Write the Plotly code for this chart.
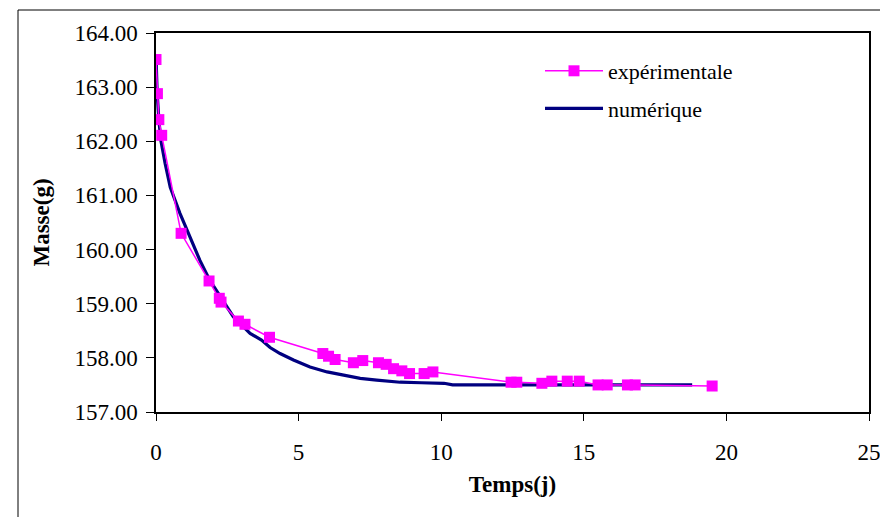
import plotly.graph_objects as go

# Experimental data (Temps in days, Masse in g)
exp_t = [0.0, 0.05, 0.1, 0.2, 0.88, 1.86, 2.22, 2.28, 2.89, 3.12, 3.98,
         5.85, 6.05, 6.28, 6.92, 7.25, 7.8, 8.07, 8.33, 8.62, 8.89, 9.4, 9.71,
         12.45, 12.65, 13.53, 13.88, 14.42, 14.84, 15.5, 15.82, 16.53, 16.8, 19.5]
exp_m = [163.51, 162.88, 162.40, 162.11, 160.30, 159.42, 159.10, 159.03, 158.68, 158.62, 158.38,
         158.08, 158.03, 157.97, 157.91, 157.95, 157.91, 157.88, 157.80, 157.76, 157.71, 157.71, 157.74,
         157.55, 157.55, 157.53, 157.57, 157.57, 157.57, 157.50, 157.50, 157.50, 157.50, 157.48]

# Numerical solution
num_t = [0.0, 0.04, 0.1, 0.17, 0.32, 0.5, 0.84, 1.19, 1.54, 1.89, 2.25, 2.71, 3.3, 3.7,
         4.0, 4.35, 4.82, 5.4, 6.0, 6.57, 7.16, 7.74, 8.56, 9.3, 10.1, 10.4, 12.0, 14.0, 16.0, 18.8]
num_m = [163.58, 162.90, 162.40, 162.02, 161.59, 161.15, 160.67, 160.25, 159.80, 159.43, 159.13,
         158.76, 158.45, 158.33, 158.19, 158.08, 157.96, 157.83, 157.74, 157.68, 157.62, 157.59,
         157.55, 157.54, 157.53, 157.50, 157.50, 157.50, 157.50, 157.50]

x_ticks = [0, 5, 10, 15, 20, 25]
y_ticks = [157, 158, 159, 160, 161, 162, 163, 164]
y_tick_labels = ["157.00", "158.00", "159.00", "160.00", "161.00", "162.00", "163.00", "164.00"]

FONT = "Liberation Serif, Times New Roman, serif"

fig = go.Figure()
fig.add_trace(go.Scatter(
    x=num_t, y=num_m, mode="lines", name="numérique",
    line=dict(color="#000080", width=3.2), legendgroup="b", legendrank=2))
fig.add_trace(go.Scatter(
    x=exp_t, y=exp_m, mode="lines+markers", name="expérimentale",
    line=dict(color="#FF00FF", width=1.5),
    marker=dict(symbol="square", size=11, color="#FF00FF"),
    legendgroup="a", legendrank=1))

# page body has an 8px margin; figure coordinates = screen - 8
OFF = 8
L, R, T, B = 156 - OFF, 869 - OFF, 33 - OFF, 412 - OFF
W, H = 888 - OFF, 517 - OFF
pw, ph = R - L, B - T

fig.update_layout(
    width=W, height=H,
    margin=dict(l=L, r=W - R, t=T, b=H - B, pad=0, autoexpand=False),
    paper_bgcolor="white", plot_bgcolor="white",
    font=dict(family=FONT, size=23, color="black"),
    showlegend=True,
    legend=dict(x=(540 - 156) / pw, y=(412 - 50) / ph, xanchor="left", yanchor="top",
                bgcolor="rgba(0,0,0,0)", font=dict(family=FONT, size=22),
                tracegroupgap=6, itemwidth=58),
    xaxis=dict(range=[0, 25], tickvals=x_ticks, ticks="outside", ticklen=7,
               tickcolor="black", showline=True, linecolor="black", linewidth=1.5,
               mirror=True, showgrid=False, zeroline=False, ticklabelstandoff=12,
               title=dict(text="<b>Temps(j)</b>", standoff=12,
                          font=dict(family=FONT, size=23))),
    yaxis=dict(range=[157, 164], tickvals=y_ticks, ticktext=y_tick_labels,
               ticks="outside", ticklen=8, tickcolor="black",
               showline=True, linecolor="black", linewidth=1.5, mirror=True,
               showgrid=False, zeroline=False, ticklabelstandoff=4,
               title=dict(text="<b>Masse(g)</b>", standoff=18,
                          font=dict(family=FONT, size=23))),
    shapes=[dict(type="rect", xref="paper", yref="paper",
                 x0=(18 - 156) / pw, x1=(885 - 156) / pw,
                 y0=(412 - 540) / ph, y1=(412 - 10) / ph,
                 line=dict(color="black", width=1), layer="below")],
)

fig.write_html("out.html")
